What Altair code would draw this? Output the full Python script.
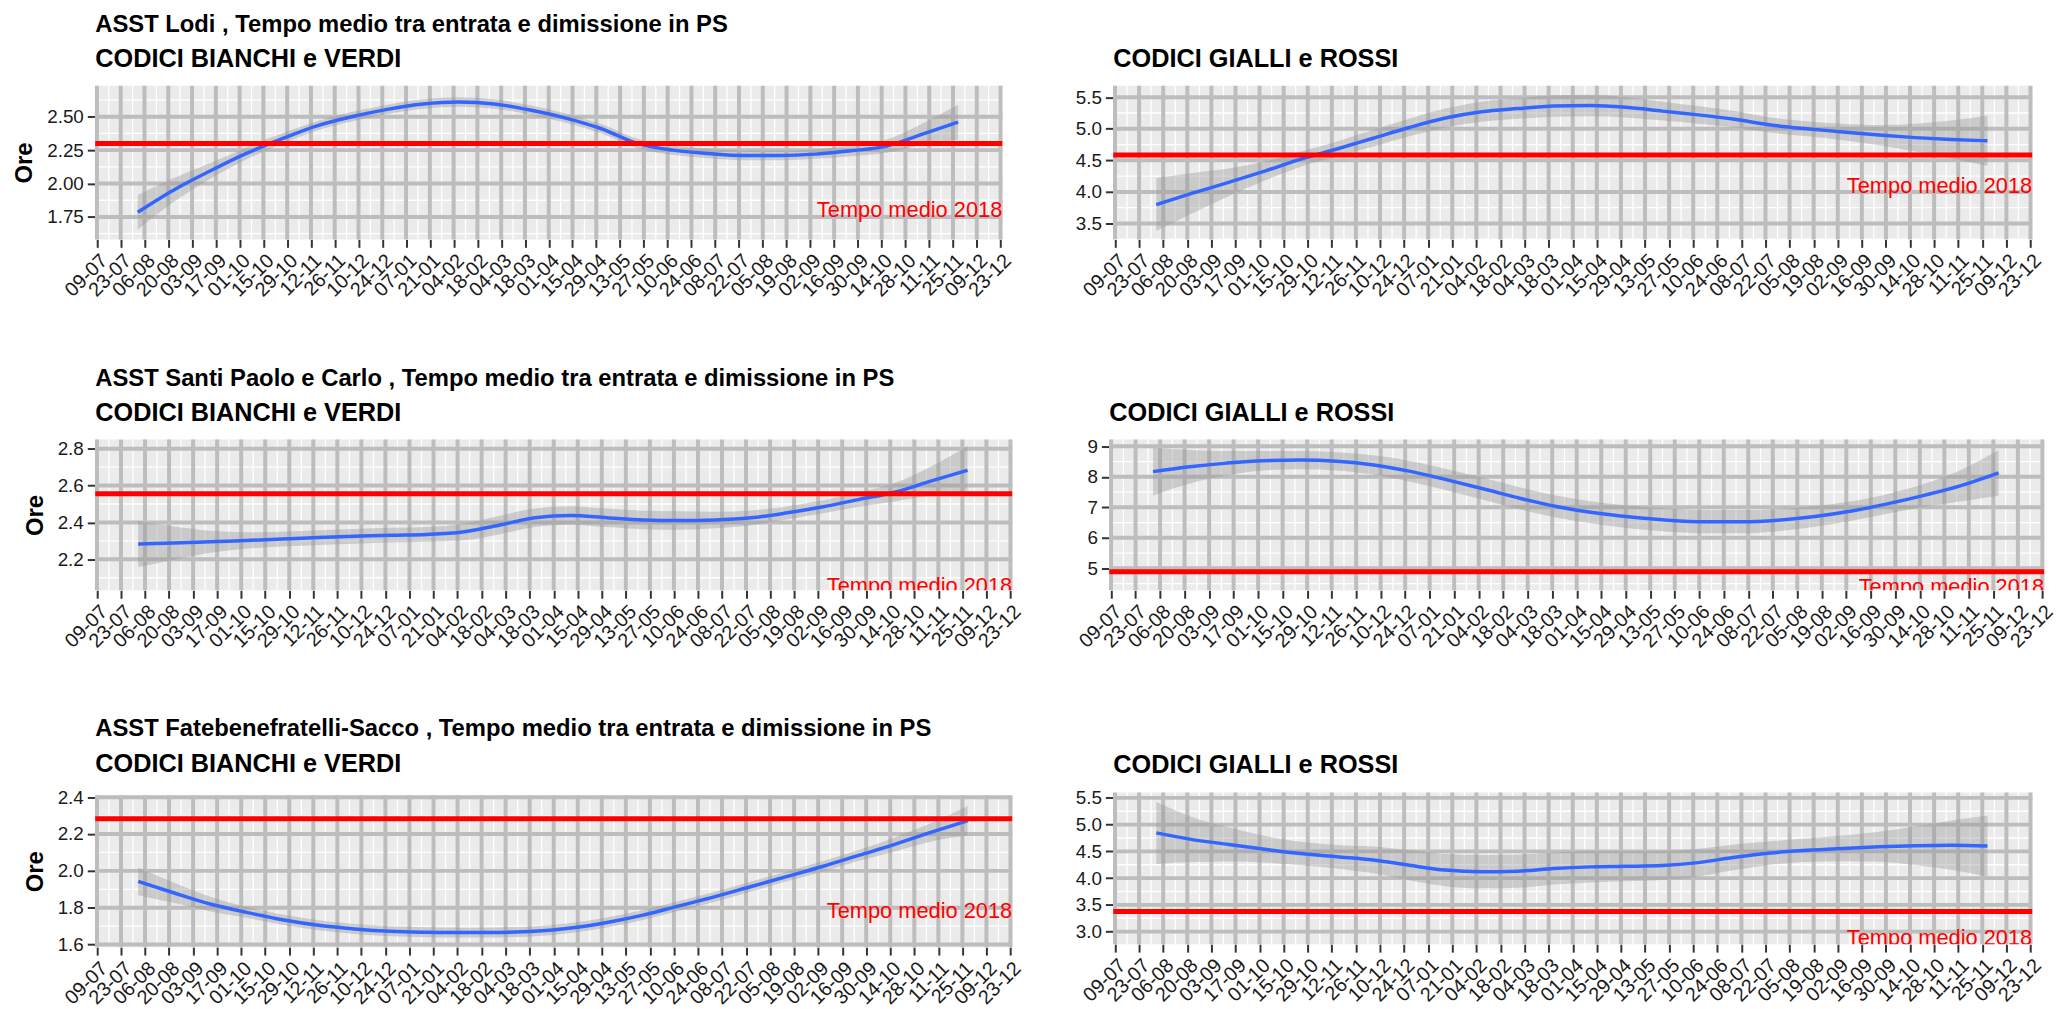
import altair as alt
import pandas as pd

FONT = "Liberation Sans"

# ---------------- data ----------------
sample_dates = ["2018-08-02", "2018-08-23", "2018-09-13", "2018-10-04", "2018-10-25",
                "2018-11-15", "2018-12-06", "2018-12-27", "2019-01-17", "2019-02-07",
                "2019-02-28", "2019-03-21", "2019-04-11", "2019-05-02", "2019-05-23",
                "2019-06-13", "2019-07-04", "2019-07-25", "2019-08-15", "2019-09-05",
                "2019-09-26", "2019-10-17", "2019-11-07", "2019-11-28"]

tick_dates = ["2018-07-09", "2018-07-23", "2018-08-06", "2018-08-20", "2018-09-03",
              "2018-09-17", "2018-10-01", "2018-10-15", "2018-10-29", "2018-11-12",
              "2018-11-26", "2018-12-10", "2018-12-24", "2019-01-07", "2019-01-21",
              "2019-02-04", "2019-02-18", "2019-03-04", "2019-03-18", "2019-04-01",
              "2019-04-15", "2019-04-29", "2019-05-13", "2019-05-27", "2019-06-10",
              "2019-06-24", "2019-07-08", "2019-07-22", "2019-08-05", "2019-08-19",
              "2019-09-02", "2019-09-16", "2019-09-30", "2019-10-14", "2019-10-28",
              "2019-11-11", "2019-11-25", "2019-12-09", "2019-12-23"]

x_domain = ["2018-07-08", "2019-12-24"]

# smoothed curves (hours)
lodi_bv = [1.785, 1.95, 2.09, 2.22, 2.33, 2.43, 2.50, 2.555, 2.595, 2.61, 2.595, 2.55,
           2.49, 2.41, 2.30, 2.25, 2.225, 2.21, 2.21, 2.22, 2.245, 2.28, 2.37, 2.46]
lodi_bv_se = [0.13, 0.09, 0.06, 0.045, 0.04, 0.035, 0.035, 0.035, 0.035, 0.035, 0.035, 0.035,
              0.035, 0.035, 0.035, 0.035, 0.035, 0.035, 0.035, 0.035, 0.04, 0.05, 0.08, 0.13]
lodi_gr = [3.80, 3.98, 4.15, 4.33, 4.52, 4.68, 4.85, 5.02, 5.17, 5.27, 5.32, 5.36,
           5.37, 5.34, 5.28, 5.22, 5.15, 5.06, 5.00, 4.95, 4.90, 4.86, 4.83, 4.81]
lodi_gr_se = [0.42, 0.32, 0.22, 0.15, 0.12, 0.12, 0.13, 0.14, 0.15, 0.16, 0.16, 0.17,
              0.17, 0.16, 0.15, 0.14, 0.13, 0.12, 0.12, 0.13, 0.16, 0.22, 0.30, 0.40]

spc_bv = [2.283, 2.288, 2.295, 2.302, 2.31, 2.318, 2.325, 2.331, 2.335, 2.348, 2.385, 2.425,
          2.438, 2.425, 2.413, 2.41, 2.413, 2.425, 2.452, 2.485, 2.525, 2.565, 2.625, 2.683]
spc_bv_se = [0.125, 0.09, 0.06, 0.045, 0.04, 0.04, 0.04, 0.04, 0.04, 0.045, 0.05, 0.05,
             0.05, 0.05, 0.05, 0.05, 0.045, 0.04, 0.035, 0.035, 0.04, 0.05, 0.08, 0.13]
spc_gr = [8.17, 8.33, 8.45, 8.53, 8.55, 8.51, 8.39, 8.18, 7.90, 7.60, 7.29, 7.02,
          6.82, 6.68, 6.58, 6.53, 6.53, 6.58, 6.70, 6.88, 7.12, 7.40, 7.72, 8.13]
spc_gr_se = [0.78, 0.55, 0.40, 0.32, 0.30, 0.30, 0.32, 0.34, 0.35, 0.36, 0.36, 0.36,
             0.36, 0.37, 0.38, 0.38, 0.38, 0.36, 0.34, 0.32, 0.32, 0.38, 0.52, 0.75]

fbf_bv = [1.943, 1.88, 1.82, 1.775, 1.735, 1.705, 1.685, 1.672, 1.667, 1.665, 1.666, 1.672,
          1.69, 1.72, 1.76, 1.81, 1.86, 1.915, 1.97, 2.025, 2.085, 2.145, 2.21, 2.272]
fbf_bv_se = [0.075, 0.055, 0.04, 0.03, 0.028, 0.027, 0.027, 0.027, 0.027, 0.027, 0.027, 0.027,
             0.027, 0.027, 0.027, 0.027, 0.027, 0.027, 0.027, 0.028, 0.03, 0.038, 0.05, 0.08]
fbf_gr = [4.845, 4.72, 4.63, 4.54, 4.46, 4.40, 4.34, 4.24, 4.15, 4.12, 4.13, 4.18,
          4.21, 4.22, 4.235, 4.29, 4.39, 4.47, 4.52, 4.555, 4.585, 4.605, 4.615, 4.60]
fbf_gr_se = [0.58, 0.42, 0.32, 0.25, 0.22, 0.22, 0.25, 0.28, 0.30, 0.31, 0.31, 0.30,
             0.29, 0.28, 0.27, 0.26, 0.24, 0.22, 0.22, 0.24, 0.28, 0.36, 0.46, 0.57]

# 2018 averages (red lines)
mean_2018 = {"lodi_bv": 2.30, "lodi_gr": 4.585, "spc_bv": 2.555,
             "spc_gr": 4.89, "fbf_bv": 2.283, "fbf_gr": 3.376}

hospitals = ["ASST Lodi", "ASST Santi Paolo e Carlo", "ASST Fatebenefratelli-Sacco"]
subtitle_left = "CODICI BIANCHI e VERDI"
subtitle_right = "CODICI GIALLI e ROSSI"
label_text = "Tempo medio 2018"

# ---------------- helpers ----------------
def ms(s):
    return int(pd.Timestamp(s, tz="UTC").value // 10**6)

tick_ms = [ms(d) for d in tick_dates]
minor_dates = [(pd.Timestamp(a) + (pd.Timestamp(b) - pd.Timestamp(a)) / 2).strftime("%Y-%m-%d")
               for a, b in zip(tick_dates[:-1], tick_dates[1:])]

xscale = alt.Scale(type="utc", domain=[ms(d) for d in x_domain])
xaxis = alt.Axis(values=tick_ms, format="%d-%m", labelAngle=315, labelAlign="right",
                 labelBaseline="top", labelOverlap=False, labelFlush=False, grid=False,
                 domain=False, tickSize=8, tickWidth=2, tickColor="#333333",
                 labelFontSize=20, labelColor="#1a1a1a", labelFont=FONT, labelPadding=3)

MAJOR = "#BDBDBD"


def panel(values, se, mean, ydom, yticks, yfmt, title, subtitle, ytitle, width, height):
    step = yticks[1] - yticks[0]
    hminor = [t - step / 2 for t in yticks] + [yticks[-1] + step / 2]
    hminor = [h for h in hminor if ydom[0] < h < ydom[1]]

    yscale = alt.Scale(domain=ydom, nice=False, zero=False)
    yaxis = alt.Axis(values=yticks, format=yfmt, grid=False, domain=False, tickSize=8,
                     tickWidth=2, tickColor="#333333", labelFontSize=19,
                     labelColor="#1a1a1a", labelFont=FONT, labelPadding=4,
                     titleFont=FONT, titleFontSize=24, titleFontWeight="bold",
                     titleColor="black", titlePadding=10)

    def X(f):
        return alt.X(f, type="temporal", scale=xscale, axis=xaxis, title=None)

    def Y(f):
        return alt.Y(f, type="quantitative", scale=yscale, axis=yaxis, title=ytitle)

    df = pd.DataFrame({"date": sample_dates, "v": values,
                       "lo": [v - s for v, s in zip(values, se)],
                       "hi": [v + s for v, s in zip(values, se)]})

    hmin = alt.Chart(pd.DataFrame({"g": hminor})).mark_rule(
        color="white", strokeWidth=1.3).encode(y=Y("g"))
    vmin = alt.Chart(pd.DataFrame({"d": minor_dates})).mark_rule(
        color="white", strokeWidth=1.3).encode(x=X("d"))
    hmaj = alt.Chart(pd.DataFrame({"g": yticks})).mark_rule(
        color=MAJOR, strokeWidth=4).encode(y=Y("g"))
    vmaj = alt.Chart(pd.DataFrame({"d": tick_dates})).mark_rule(
        color=MAJOR, strokeWidth=4).encode(x=X("d"))

    band = alt.Chart(df).mark_area(color="#999999", opacity=0.4, clip=True,
                                   interpolate="monotone").encode(
        x=X("date"), y=Y("lo"), y2="hi")
    line = alt.Chart(df).mark_line(color="#3366FF", strokeWidth=3.5, clip=True,
                                   interpolate="monotone").encode(x=X("date"), y=Y("v"))
    red = alt.Chart(pd.DataFrame({"m": [mean]})).mark_rule(
        color="#FF0000", strokeWidth=5).encode(y=Y("m"))
    txt = alt.Chart(pd.DataFrame({"d": [x_domain[1]], "ty": [mean - 0.5], "t": [label_text]})
                    ).mark_text(color="#FF0000", font=FONT, fontSize=22, align="right",
                                baseline="middle", clip=True).encode(
        x=X("d"), y=Y("ty"), text="t:N")

    return alt.layer(hmin, vmin, hmaj, vmaj, band, line, red, txt).properties(
        width=width, height=height,
        title=alt.TitleParams(text=title, subtitle=subtitle, anchor="start", frame="group",
                              font=FONT, fontSize=24, fontWeight="bold", color="black",
                              subtitleFont=FONT, subtitleFontSize=25.5,
                              subtitleFontWeight="bold", subtitleColor="black",
                              subtitlePadding=11, offset=11))


title_fmt = "{} , Tempo medio tra entrata e dimissione in PS"
NB = "\u00a0"

tl = panel(lodi_bv, lodi_bv_se, mean_2018["lodi_bv"], [1.582, 2.732], [1.75, 2.0, 2.25, 2.5],
           ".2f", title_fmt.format(hospitals[0]), subtitle_left, "Ore", 915, 155)
tr = panel(lodi_gr, lodi_gr_se, mean_2018["lodi_gr"], [3.248, 5.682], [3.5, 4.0, 4.5, 5.0, 5.5],
           ".1f", NB, subtitle_right, None, 927, 155)
ml = panel(spc_bv, spc_bv_se, mean_2018["spc_bv"], [2.032, 2.849], [2.2, 2.4, 2.6, 2.8],
           ".1f", title_fmt.format(hospitals[1]), subtitle_left, "Ore", 925, 152)
mr = panel(spc_gr, spc_gr_se, mean_2018["spc_gr"], [4.28, 9.22], [5, 6, 7, 8, 9],
           "d", NB, subtitle_right, None, 943, 152)
bl = panel(fbf_bv, fbf_bv_se, mean_2018["fbf_bv"], [1.586, 2.409], [1.6, 1.8, 2.0, 2.2, 2.4],
           ".1f", title_fmt.format(hospitals[2]), subtitle_left, "Ore", 925, 153)
br = panel(fbf_gr, fbf_gr_se, mean_2018["fbf_gr"], [2.765, 5.60], [3.0, 3.5, 4.0, 4.5, 5.0, 5.5],
           ".1f", NB, subtitle_right, None, 927, 153)

chart = alt.concat(
    tl, tr, ml, mr, bl, br,
    columns=2,
    spacing={"row": 66, "column": 50},
    align="none",
    bounds="full",
).properties(
    padding={"left": 5, "top": 0, "right": 0, "bottom": 0},
    background="white",
).configure_view(fill="#EBEBEB", strokeWidth=0)

chart.save("out.html", embed_options={"renderer": "svg", "actions": False})
